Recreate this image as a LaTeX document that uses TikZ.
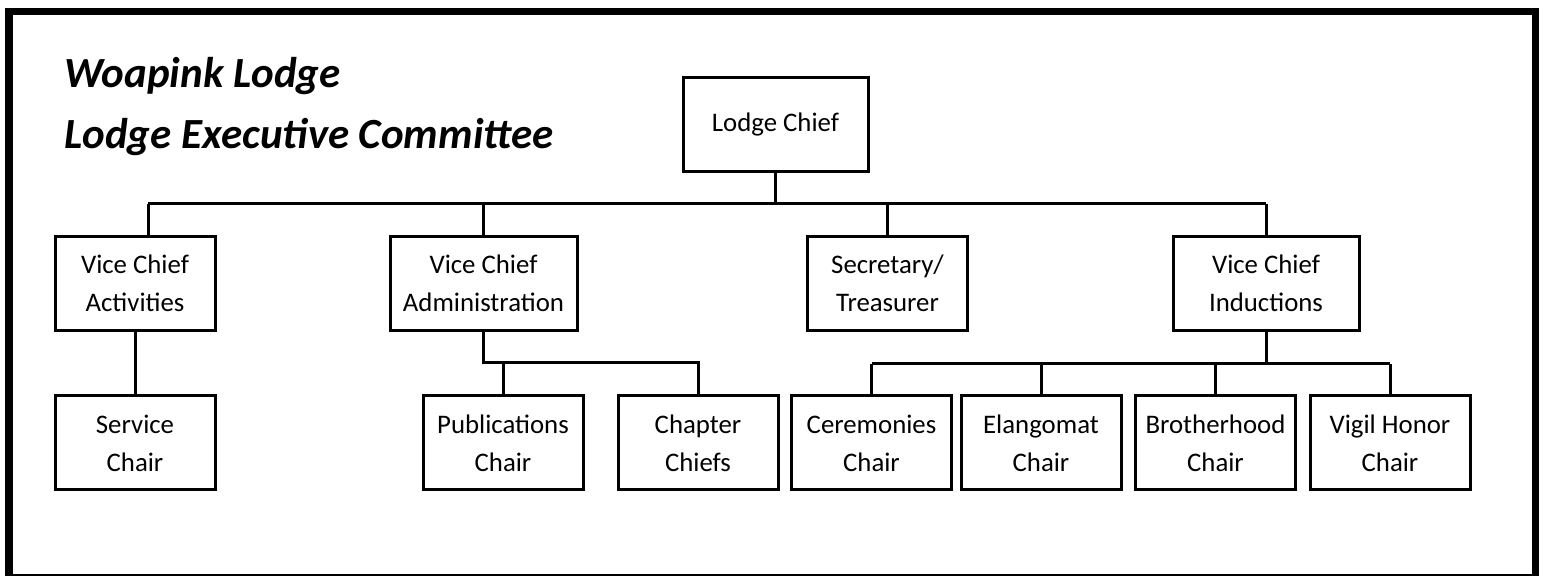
\documentclass[tikz,border=0pt]{standalone}
\usepackage{fontspec}
\setmainfont{Carlito}
\begin{document}
\begin{tikzpicture}[x=0.5pt,y=-0.5pt,
  orgbox/.style={draw, line width=1.5pt, minimum height=47pt, inner sep=0pt, align=center,
    font=\fontsize{13.4}{19}\selectfont},
  wbox/.style={orgbox, minimum width=80pt},
  link/.style={line width=1.5pt},
  frame/.style={line width=3.6pt},
  titletext/.style={anchor=base west, inner sep=0pt, font=\fontsize{21.5}{25}\selectfont\bfseries\itshape}]
\useasboundingbox (0,0) rectangle (1544,576);
\draw[frame] (9,11.5) rectangle (1535.5,578);

\node[titletext] (t1) at (64,88) {Woapink Lodge};
\node[titletext] (t2) at (64,149) {Lodge Executive Committee};

\node[orgbox, minimum width=92.5pt] (chief) at (775.5,125) {Lodge Chief};

\node[wbox] (vca) at (135,283.5) {Vice Chief\\Activities};
\node[orgbox, minimum width=93.5pt] (vcad) at (483.5,283.5) {Vice Chief\\Administration};
\node[wbox] (sec) at (887.5,283.5) {Secretary/\\Treasurer};
\node[orgbox, minimum width=93pt] (vci) at (1266,283.5) {Vice Chief\\Inductions};

\node[wbox] (service) at (135,443) {Service\\Chair};
\node[wbox] (pub) at (503,443) {Publications\\Chair};
\node[wbox] (chap) at (698,443) {Chapter\\Chiefs};
\node[wbox] (cer) at (871.5,443) {Ceremonies\\Chair};
\node[wbox] (elan) at (1041,443) {Elangomat\\Chair};
\node[wbox] (broth) at (1215.5,443) {Brotherhood\\Chair};
\node[wbox] (vigil) at (1390,443) {Vigil Honor\\Chair};

% top level bar
\coordinate (tl) at (148,204);
\coordinate (tr) at (1266,204);
\draw[link] (tl) -- (tr);
\draw[link] (chief.south) -- (chief.south |- tl);
\draw[link] (tl) -- (tl |- vca.north);
\draw[link] (vcad.north |- tl) -- (vcad.north);
\draw[link] (sec.north |- tl) -- (sec.north);
\draw[link] (tr) -- (vci.north);

% activities
\draw[link] (vca.south) -- (service.north);

% administration
\coordinate (ab) at (484,363);
\draw[link] (vcad.south) -- (vcad.south |- ab) -- (chap.north |- ab) -- (chap.north);
\draw[link] (pub.north |- ab) -- (pub.north);

% inductions
\coordinate (ib) at (1266,364);
\draw[link] (vci.south) -- (ib);
\draw[link] (cer.north |- ib) -- (vigil.north |- ib);
\draw[link] (cer.north |- ib) -- (cer.north);
\draw[link] (elan.north |- ib) -- (elan.north);
\draw[link] (broth.north |- ib) -- (broth.north);
\draw[link] (vigil.north |- ib) -- (vigil.north);
\end{tikzpicture}
\end{document}
